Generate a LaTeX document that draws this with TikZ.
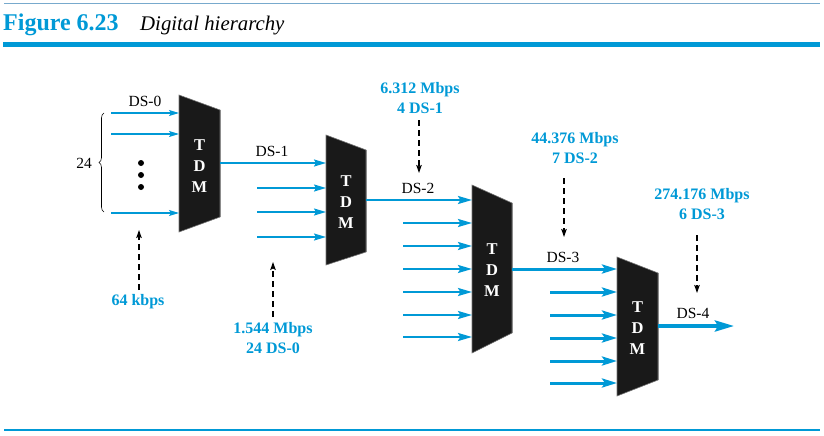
\documentclass[tikz,border=0pt]{standalone}
\usepackage{fontspec}
\setmainfont{Liberation Serif}
\usetikzlibrary{arrows.meta,decorations.pathreplacing}
\definecolor{fblue}{RGB}{0,153,214}
\definecolor{hline}{RGB}{120,170,205}
\begin{document}
\begin{tikzpicture}[x=1pt,y=-1pt,
  tdm/.style={fill=black!90, draw=black!55, line width=0.6pt},
  tdmtext/.style={text=white, font=\fontsize{16.5}{21}\selectfont\bfseries, align=center, inner sep=0pt},
  dslabel/.style={font=\fontsize{15.5}{18}\selectfont, inner sep=0pt},
  ratelabel/.style={text=fblue, font=\fontsize{16}{19.5}\selectfont\bfseries, align=center, inner sep=0pt},
  sigA/.style={draw=fblue, line width=1.1pt, -{Stealth[length=10pt,width=6pt,inset=2pt]}},
  sigB/.style={draw=fblue, line width=1.6pt, -{Stealth[length=12pt,width=7pt,inset=2pt]}},
  sigC/.style={draw=fblue, line width=2.2pt, -{Stealth[length=14pt,width=8pt,inset=2.5pt]}},
  sigD/.style={draw=fblue, line width=3pt, -{Stealth[length=15pt,width=9pt,inset=3pt]}},
  sigE/.style={draw=fblue, line width=3.6pt, -{Stealth[length=19pt,width=11pt,inset=3pt]}},
  rate/.style={draw=black, line width=1.2pt, dash pattern=on 6pt off 4pt, -{Stealth[length=8pt,width=5.5pt,inset=1.5pt]}}
]
\useasboundingbox (0,0) rectangle (824,436);

% header
\draw[hline, line width=0.8pt] (4,3.5) -- (820,3.5);
\node[anchor=base west, text=fblue, font=\fontsize{24}{24}\selectfont\bfseries, inner sep=0pt] (fig) at (3,31) {Figure 6.23};
\node[anchor=base west, font=\fontsize{20.8}{21}\selectfont\itshape, inner sep=0pt] (cap) at (140,31) {Digital hierarchy};
\fill[fblue] (3,42) rectangle (820,47);
\draw[fblue, line width=1.2pt] (4,430) -- (820,430);

% TDM blocks
\fill[tdm] (179,95) -- (220,110) -- (220,217) -- (179,232) -- cycle;
\fill[tdm] (326,135) -- (366,150) -- (366,252) -- (326,265) -- cycle;
\fill[tdm] (472,185) -- (512,203) -- (512,333) -- (472,353) -- cycle;
\fill[tdm] (617,257) -- (658,273) -- (658,380) -- (617,396) -- cycle;
\draw[black!45, line width=0.6pt] (220,110) -- (220,217);
\draw[black!45, line width=0.6pt] (366,150) -- (366,252);
\draw[black!45, line width=0.6pt] (512,203) -- (512,333);
\draw[black!45, line width=0.6pt] (658,273) -- (658,380);
\node[tdmtext] (tdm1) at (199.5,166) {T\\D\\M};
\node[tdmtext] (tdm2) at (346,202) {T\\D\\M};
\node[tdmtext] (tdm3) at (492,270) {T\\D\\M};
\node[tdmtext] (tdm4) at (637.5,328) {T\\D\\M};

% stage 1 inputs
\foreach \y [count=\i] in {113,134,213} {
  \coordinate (s1a\i) at (111,\y);
  \coordinate (s1b\i) at (179,\y);
  \draw[sigA] (s1a\i) -- (s1b\i);
}
\foreach \y [count=\i] in {163,175,187} {
  \fill[black] (141,\y) circle (3pt);
}
\coordinate (brT) at (104,113);
\coordinate (brB) at (104,212);
\draw[black, line width=0.6pt] decorate[decoration={brace, amplitude=5pt}] {(brB) -- (brT)};
\node[dslabel, anchor=east] (n24) at (92,163) {24};
\node[dslabel] (ds0) at (145,101) {DS-0};

% stage 2 inputs
\coordinate (o1) at (220,163);
\coordinate (i2a) at (326,163);
\draw[sigB] (o1) -- (i2a);
\foreach \y [count=\i] in {188,212,237} {
  \coordinate (s2a\i) at (257,\y);
  \coordinate (s2b\i) at (326,\y);
  \draw[sigB] (s2a\i) -- (s2b\i);
}
\node[dslabel] (ds1) at (272,151) {DS-1};

% stage 3 inputs
\coordinate (o2) at (366,200);
\coordinate (i3a) at (472,200);
\draw[sigC] (o2) -- (i3a);
\foreach \y [count=\i] in {223,246,269,292,315,337} {
  \coordinate (s3a\i) at (403,\y);
  \coordinate (s3b\i) at (472,\y);
  \draw[sigC] (s3a\i) -- (s3b\i);
}
\node[dslabel] (ds2) at (418,188) {DS-2};

% stage 4 inputs
\coordinate (o3) at (512,269);
\coordinate (i4a) at (617,269);
\draw[sigD] (o3) -- (i4a);
\foreach \y [count=\i] in {292,315,338,361,383} {
  \coordinate (s4a\i) at (550,\y);
  \coordinate (s4b\i) at (617,\y);
  \draw[sigD] (s4a\i) -- (s4b\i);
}
\node[dslabel] (ds3) at (563,257) {DS-3};

% output
\coordinate (o4) at (658,326);
\coordinate (out) at (734,326);
\draw[sigE] (o4) -- (out);
\node[dslabel] (ds4) at (693,313) {DS-4};

% rate labels and dashed arrows
\node[ratelabel] (r0) at (138,302) {64 kbps};
\coordinate (r0s) at (139,290);
\coordinate (r0e) at (139,230);
\draw[rate] (r0s) -- (r0e);

\node[ratelabel] (r1) at (273,338) {1.544 Mbps\\24 DS-0};
\coordinate (r1s) at (273,317);
\coordinate (r1e) at (273,262);
\draw[rate] (r1s) -- (r1e);

\node[ratelabel] (r2) at (420,98) {6.312 Mbps\\4 DS-1};
\coordinate (r2s) at (419,120);
\coordinate (r2e) at (419,173);
\draw[rate] (r2s) -- (r2e);

\node[ratelabel] (r3) at (575,148) {44.376 Mbps\\7 DS-2};
\coordinate (r3s) at (564,178);
\coordinate (r3e) at (564,237);
\draw[rate] (r3s) -- (r3e);

\node[ratelabel] (r4) at (702,204) {274.176 Mbps\\6 DS-3};
\coordinate (r4s) at (697,235);
\coordinate (r4e) at (697,293);
\draw[rate] (r4s) -- (r4e);
\end{tikzpicture}
\end{document}
